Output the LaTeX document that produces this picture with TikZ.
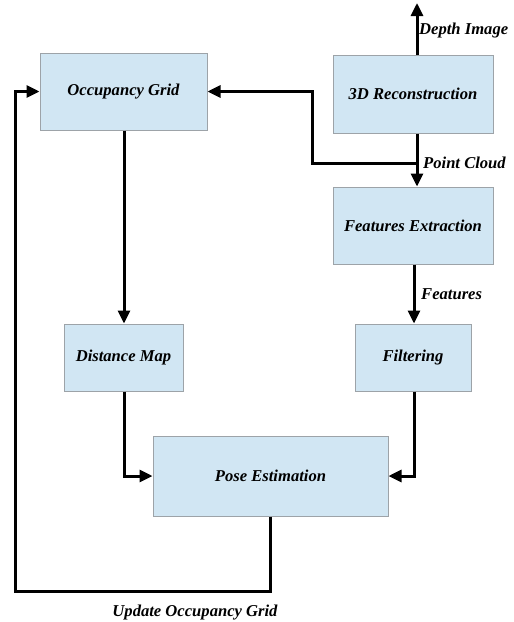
\documentclass[tikz,border=0pt]{standalone}
\usepackage{fontspec}
\setmainfont{Liberation Serif}
\usetikzlibrary{arrows.meta}
\definecolor{boxfill}{HTML}{D1E6F3}
\definecolor{boxline}{HTML}{9DA3A8}
\begin{document}
\begin{tikzpicture}[x=1pt,y=-1pt,
  blk/.style={draw=boxline,line width=1pt,fill=boxfill,inner sep=0pt,
    font=\fontsize{16.6}{19}\selectfont\bfseries\itshape},
  lbl/.style={font=\fontsize{16.6}{19}\selectfont\bfseries\itshape,inner sep=0pt},
  conn/.style={line width=3pt,-{Triangle[length=13pt,width=12pt]}},
  plain/.style={line width=3pt}]
\useasboundingbox (0,0) rectangle (514,622);
\node[blk,minimum width=167pt,minimum height=77pt] (og) at (123.5,91.5) {Occupancy Grid};
\node[blk,minimum width=160pt,minimum height=78pt] (rec) at (413,94) {3D Reconstruction};
\node[blk,minimum width=160pt,minimum height=77pt] (fe) at (413,225.5) {Features Extraction};
\node[blk,minimum width=119pt,minimum height=67pt] (dm) at (123.5,357.5) {Distance Map};
\node[blk,minimum width=116pt,minimum height=67pt] (fi) at (413,357.5) {Filtering};
\node[blk,minimum width=235pt,minimum height=80pt] (pe) at (270.5,476) {Pose Estimation};
\coordinate (top) at (417,3);
\coordinate (pc) at (417,163);
\coordinate (dmc) at (124,476);
\coordinate (fic) at (414,476);
\coordinate (bl) at (15,591);
\node[lbl,anchor=west] (dlab) at (419,31) {Depth Image};
\node[lbl,anchor=west] (plab) at (423,163) {Point Cloud};
\node[lbl,anchor=west] (flab) at (421,294) {Features};
\node[lbl] (ulab) at (195,613) {Update Occupancy Grid};
\draw[conn] (rec.north -| top) -- (top);
\draw[conn] (rec.south -| top) -- (fe.north -| top);
\draw[conn] (pc) -- (312,163) -- (312,91.5) -- (og.east);
\draw[conn] (fe.south -| fic) -- (fi.north -| fic);
\draw[conn] (og.south -| dmc) -- (dm.north -| dmc);
\draw[conn] (dm.south -| dmc) -- (dmc) -- (pe.west);
\draw[conn] (fi.south -| fic) -- (fic) -- (pe.east);
\draw[conn] (pe.south) -- (pe.south |- bl) -- (bl) -- (bl |- og.west) -- (og.west);
\end{tikzpicture}
\end{document}
